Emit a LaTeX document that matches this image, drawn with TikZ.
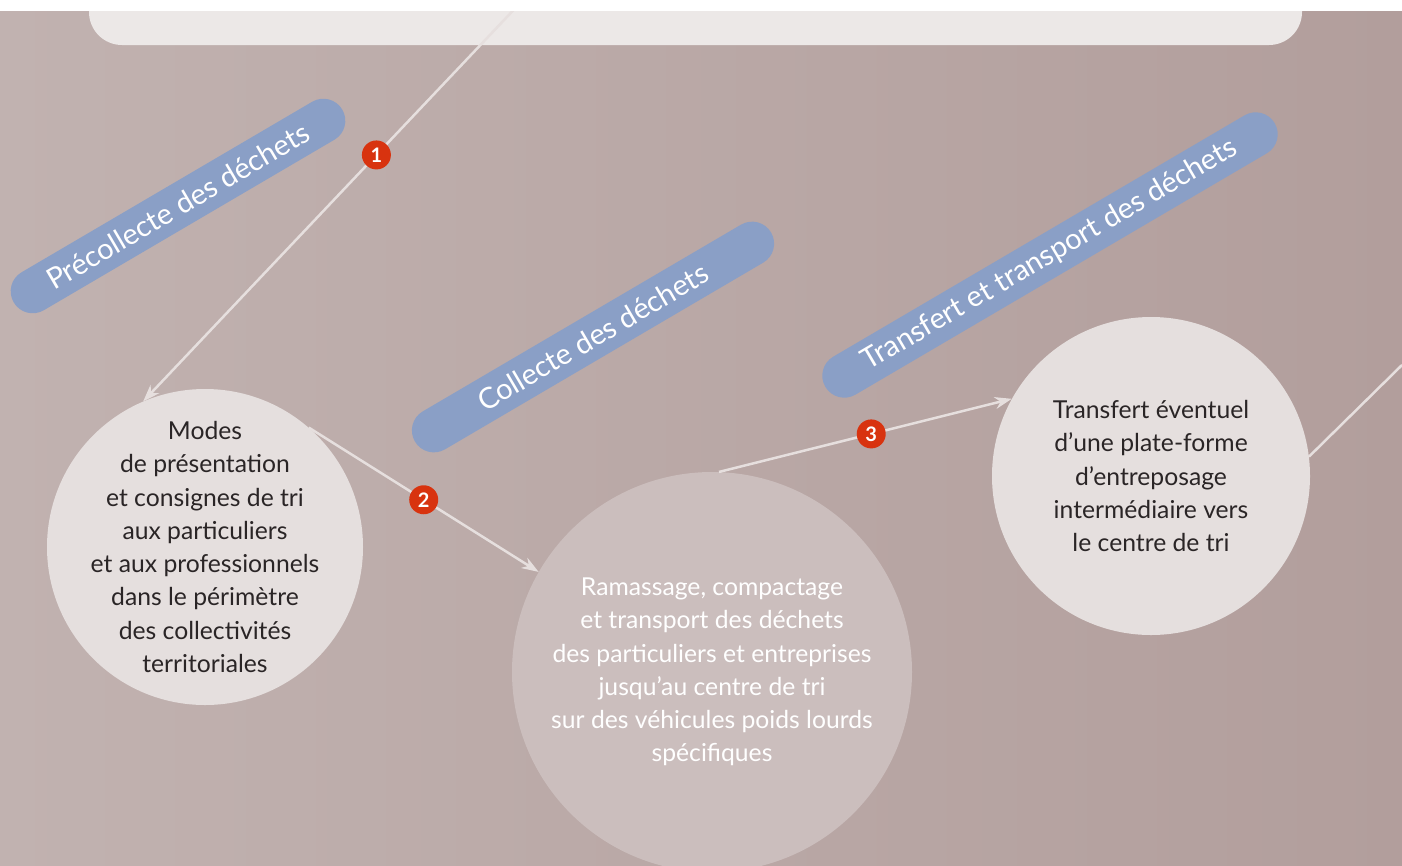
\documentclass[tikz,border=0pt]{standalone}
\usepackage{fontspec}
\setmainfont{Lato}
\usetikzlibrary{arrows.meta}
\definecolor{fondg}{HTML}{C1B2B0}
\definecolor{fondd}{HTML}{B29E9C}
\definecolor{boite}{HTML}{ECE8E7}
\definecolor{bleu}{HTML}{8A9FC6}
\definecolor{rouge}{HTML}{D8330F}
\definecolor{trait}{HTML}{E6DFDE}
\definecolor{clair}{HTML}{E5DFDE}
\definecolor{moyen}{HTML}{CBBEBD}
\definecolor{encre}{HTML}{2A2526}
\begin{document}
\begin{tikzpicture}[x=1pt,y=-1pt,>={Stealth[length=17pt,width=12pt]},
	bulle/.style={circle,inner sep=0pt,minimum size=#1},
	texte/.style={align=center,inner sep=0pt,font=\fontsize{24.7}{33.3}\selectfont},
	etiquette/.style={fill=bleu,text=white,rounded corners=22pt,minimum width=#1,minimum height=44pt,inner sep=0pt,rotate=30.4,font=\fontsize{29}{32}\selectfont},
	fleche/.style={->,draw=trait,line width=2.5pt},
	pastille/.style={circle,fill=rouge,text=white,inner sep=0pt,minimum size=29pt,font=\bfseries\fontsize{20}{20}\selectfont}]
	\useasboundingbox (0,0) rectangle (1402,865);
	\shade[left color=fondg,right color=fondd] (0,0) rectangle (1402,865);
	\fill[boite] (89,0) [rounded corners=33pt] -- (89,45) -- (1302,45) [sharp corners] -- (1302,0) -- cycle;
	% les trois etapes
	\node[bulle=316pt,fill=clair,label={[texte,text=encre]center:{Modes\\de présentation\\et consignes de tri\\aux particuliers\\et aux professionnels\\dans le périmètre\\des collectivités\\territoriales}}] (modes) at (205,547) {};
	\node[bulle=400pt,fill=moyen,label={[texte,text=white]center:{Ramassage, compactage\\et transport des déchets\\des particuliers et entreprises\\jusqu’au centre de tri\\sur des véhicules poids lourds\\spécifiques}}] (ramassage) at (712,672) {};
	\node[bulle=318pt,fill=clair,label={[texte,text=encre]center:{Transfert éventuel\\d’une plate-forme\\d’entreposage\\intermédiaire vers\\le centre de tri}}] (transfert) at (1151,476) {};
	\node[etiquette=381pt] (precollecte) at (178,206) {Précollecte des déchets};
	\node[etiquette=413pt] (collecte) at (593,337) {Collecte des déchets};
	\node[etiquette=521pt] (transport) at (1050,255) {Transfert et transport des déchets};
	% liaisons
	\coordinate (haut) at (523,0);
	\coordinate (sortie) at (1402,365);
	\draw[fleche] (haut) -- node[pastille,pos=0.386] (p1) {1} (modes.113.6);
	\draw[fleche] (modes.49.3) -- node[pastille] (p2) {2} (ramassage.150.7);
	\draw[fleche] (ramassage.88) -- node[pastille,pos=0.52] (p3) {3} (transfert.151.7);
	\draw[draw=trait,line width=2.5pt] (transfert.7.6) -- (sortie);
	\fill[white] (0,0) rectangle (1402,11);
\end{tikzpicture}
\end{document}
